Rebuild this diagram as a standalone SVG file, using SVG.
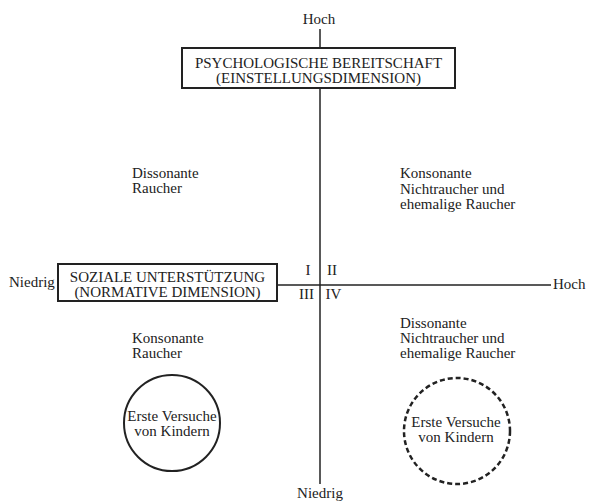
<svg xmlns="http://www.w3.org/2000/svg" width="591" height="503" viewBox="0 0 591 503">
<style>
text{font-family:"Liberation Serif","Times New Roman",serif;font-size:15px;fill:#222}
.c{text-anchor:middle}
.ax{stroke:#222;stroke-width:1.5;fill:none}
.box{fill:#fff;stroke:#222;stroke-width:2}
</style>
<rect width="591" height="503" fill="#fff"/>
<g id="connectors">
<line class="ax" x1="320" y1="29" x2="320" y2="484"/>
<line class="ax" x1="277" y1="285" x2="551" y2="285"/>
</g>
<g id="axis-labels">
<text class="c" x="319" y="24">Hoch</text>
<text class="c" x="320" y="498">Niedrig</text>
<text x="9" y="287">Niedrig</text>
<text x="553" y="289">Hoch</text>
</g>
<g id="node-psych">
<rect class="box" x="182" y="48" width="273" height="40"/>
<text class="c" x="318.5" y="68">PSYCHOLOGISCHE BEREITSCHAFT</text>
<text class="c" x="318.5" y="83">(EINSTELLUNGSDIMENSION)</text>
</g>
<g id="node-sozial">
<rect class="box" x="58" y="264" width="219" height="37"/>
<text class="c" x="167.5" y="282">SOZIALE UNTERSTÜTZUNG</text>
<text class="c" x="167.5" y="297">(NORMATIVE DIMENSION)</text>
</g>
<g id="quadrant-numbers">
<text class="c" x="308" y="275">I</text>
<text class="c" x="332" y="275">II</text>
<text class="c" x="306.5" y="299">III</text>
<text class="c" x="333.5" y="299">IV</text>
</g>
<g id="q1-text">
<text x="132" y="178">Dissonante</text>
<text x="132" y="193">Raucher</text>
</g>
<g id="q2-text">
<text x="400" y="178">Konsonante</text>
<text x="400" y="193.5">Nichtraucher und</text>
<text x="400" y="209">ehemalige Raucher</text>
</g>
<g id="q3-text">
<text x="132" y="343">Konsonante</text>
<text x="132" y="358">Raucher</text>
</g>
<g id="q4-text">
<text x="400" y="328">Dissonante</text>
<text x="400" y="343">Nichtraucher und</text>
<text x="400" y="357.5">ehemalige Raucher</text>
</g>
<g id="node-circle-left">
<circle cx="172" cy="423" r="48" fill="none" stroke="#222" stroke-width="2"/>
<text class="c" x="172" y="421">Erste Versuche</text>
<text class="c" x="172" y="436">von Kindern</text>
</g>
<g id="node-circle-right">
<circle cx="457" cy="431" r="53" fill="none" stroke="#222" stroke-width="2.5" stroke-dasharray="5 3"/>
<text class="c" x="456" y="427">Erste Versuche</text>
<text class="c" x="456" y="442">von Kindern</text>
</g>
</svg>
